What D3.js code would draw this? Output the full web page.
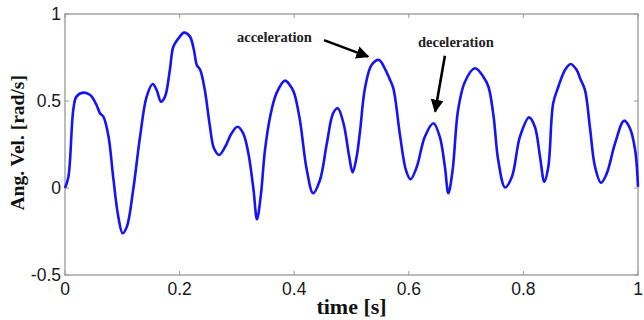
<!DOCTYPE html>
<html>
<head>
<meta charset="utf-8">
<script src="https://cdn.jsdelivr.net/npm/d3@7"></script>
<style>
  body { margin: 0; background: #fff; }
  .tick-label { font-family: "Liberation Sans", Arial, sans-serif; font-size: 17.5px; fill: #1a1a1a; }
  .axis-title { font-family: "Liberation Serif", "Times New Roman", serif; font-size: 22px; font-weight: bold; fill: #111; }
  .note { font-family: "Liberation Serif", "Times New Roman", serif; font-size: 14.5px; font-weight: bold; fill: #222; }
</style>
</head>
<body>
<div id="root"></div>
<script>
const time = [0, 0.006, 0.0145, 0.02, 0.032, 0.044, 0.055, 0.061, 0.067, 0.076, 0.084, 0.093, 0.1006, 0.108,
  0.119, 0.131, 0.1425, 0.153, 0.16, 0.1675, 0.1745, 0.183, 0.189, 0.198, 0.208, 0.218, 0.225, 0.23, 0.236,
  0.244, 0.253, 0.26, 0.269, 0.28, 0.29, 0.301, 0.311, 0.32, 0.329, 0.335, 0.3415, 0.349, 0.358, 0.369,
  0.384, 0.396, 0.401, 0.41, 0.422, 0.433, 0.445, 0.457, 0.468, 0.476, 0.486, 0.496, 0.502, 0.509, 0.515,
  0.5235, 0.535, 0.548, 0.558, 0.566, 0.573, 0.585, 0.595, 0.603, 0.614, 0.628, 0.643, 0.654, 0.663, 0.669,
  0.6765, 0.686, 0.698, 0.7155, 0.73, 0.739, 0.748, 0.756, 0.768, 0.78, 0.794, 0.81, 0.82, 0.829, 0.8365,
  0.8435, 0.852, 0.861, 0.8726, 0.8825, 0.893, 0.899, 0.9075, 0.916, 0.925, 0.9355, 0.9455, 0.96, 0.9756,
  0.986, 0.995, 1.0];
const angVel = [0, 0.065, 0.45, 0.525, 0.548, 0.534, 0.477, 0.43, 0.41, 0.295, 0.065, -0.165, -0.26, -0.222,
  -0.01, 0.295, 0.525, 0.598, 0.563, 0.496, 0.525, 0.678, 0.812, 0.86, 0.893, 0.87, 0.793, 0.707, 0.678,
  0.563, 0.352, 0.228, 0.19, 0.24, 0.31, 0.352, 0.314, 0.2, -0.01, -0.18, -0.05, 0.218, 0.41, 0.544,
  0.617, 0.573, 0.534, 0.39, 0.103, -0.03, 0.046, 0.257, 0.43, 0.458, 0.372, 0.18, 0.09, 0.18, 0.33,
  0.573, 0.707, 0.736, 0.688, 0.63, 0.573, 0.295, 0.103, 0.05, 0.122, 0.295, 0.372, 0.295, 0.122, -0.03,
  0.103, 0.448, 0.611, 0.688, 0.64, 0.582, 0.41, 0.161, 0.003, 0.065, 0.295, 0.406, 0.352, 0.18, 0.036,
  0.122, 0.487, 0.582, 0.678, 0.713, 0.678, 0.63, 0.563, 0.352, 0.122, 0.03, 0.084, 0.257, 0.387,
  0.343, 0.218, 0.007];
const xTicks = [0, 0.2, 0.4, 0.6, 0.8, 1];
const yTicks = [-0.5, 0, 0.5, 1];
const notes = [
  { text: "acceleration", tx: 237, ty: 42, from: [0.452, 0.85], to: [0.529, 0.755] },
  { text: "deceleration", tx: 418, ty: 47, from: [0.663, 0.76], to: [0.646, 0.44] }
];

const w = 644, h = 320;
const padL = 65, padR = 638, padT = 14, padB = 275;

const xScale = d3.scaleLinear().domain([0, 1]).range([padL, padR]);
const yScale = d3.scaleLinear().domain([-0.5, 1]).range([padB, padT]);
const fmt = d => String(d);

const svg = d3.select("#root").append("svg")
  .attr("width", w).attr("height", h);

const defs = svg.append("defs");
defs.append("marker")
  .attr("id", "head")
  .attr("viewBox", "0 0 10 10")
  .attr("refX", 9).attr("refY", 5)
  .attr("markerWidth", 5).attr("markerHeight", 5)
  .attr("orient", "auto")
  .append("path")
  .attr("d", "M0,0 L10,5 L0,10 z")
  .attr("fill", "#000");

// box
svg.append("rect")
  .attr("x", padL).attr("y", padT)
  .attr("width", padR - padL).attr("height", padB - padT)
  .attr("fill", "none")
  .attr("stroke", "#a6a6a6")
  .attr("stroke-width", 1.5);

// inward ticks on all four sides
const tickLen = 4;
const tg = svg.append("g").attr("stroke", "#999").attr("stroke-width", 1);
xTicks.forEach(t => {
  tg.append("line").attr("x1", xScale(t)).attr("x2", xScale(t)).attr("y1", padB).attr("y2", padB - tickLen);
  tg.append("line").attr("x1", xScale(t)).attr("x2", xScale(t)).attr("y1", padT).attr("y2", padT + tickLen);
});
yTicks.forEach(t => {
  tg.append("line").attr("x1", padL).attr("x2", padL + tickLen).attr("y1", yScale(t)).attr("y2", yScale(t));
  tg.append("line").attr("x1", padR).attr("x2", padR - tickLen).attr("y1", yScale(t)).attr("y2", yScale(t));
});

svg.selectAll(".xlab")
  .data(xTicks)
  .enter()
  .append("text")
  .attr("class", "tick-label")
  .attr("x", d => xScale(d))
  .attr("y", padB + 20)
  .attr("text-anchor", "middle")
  .text(fmt);

svg.selectAll(".ylab")
  .data(yTicks)
  .enter()
  .append("text")
  .attr("class", "tick-label")
  .attr("x", padL - 4)
  .attr("y", d => yScale(d) + 6)
  .attr("text-anchor", "end")
  .text(fmt);

// the signal
const line = d3.line()
  .x((d, i) => xScale(time[i]))
  .y(d => yScale(d))
  .curve(d3.curveCatmullRom.alpha(0.5));

svg.append("path")
  .datum(angVel)
  .attr("d", line)
  .attr("fill", "none")
  .attr("stroke", "#1414f5")
  .attr("stroke-width", 2.6)
  .attr("stroke-linejoin", "round");

// annotations
notes.forEach(n => {
  svg.append("text").attr("class", "note").attr("x", n.tx).attr("y", n.ty).text(n.text);
  svg.append("line")
    .attr("x1", xScale(n.from[0])).attr("y1", yScale(n.from[1]))
    .attr("x2", xScale(n.to[0])).attr("y2", yScale(n.to[1]))
    .attr("stroke", "#000").attr("stroke-width", 2.6)
    .attr("marker-end", "url(#head)");
});

svg.append("text")
  .attr("class", "axis-title")
  .attr("x", xScale(0.5))
  .attr("y", 314)
  .attr("text-anchor", "middle")
  .text("time [s]");

svg.append("text")
  .attr("class", "axis-title")
  .style("font-size", "19.5px")
  .attr("transform", `translate(${24}, ${yScale(0.26)}) rotate(-90)`)
  .attr("text-anchor", "middle")
  .text("Ang. Vel. [rad/s]");
</script>
</body>
</html>
